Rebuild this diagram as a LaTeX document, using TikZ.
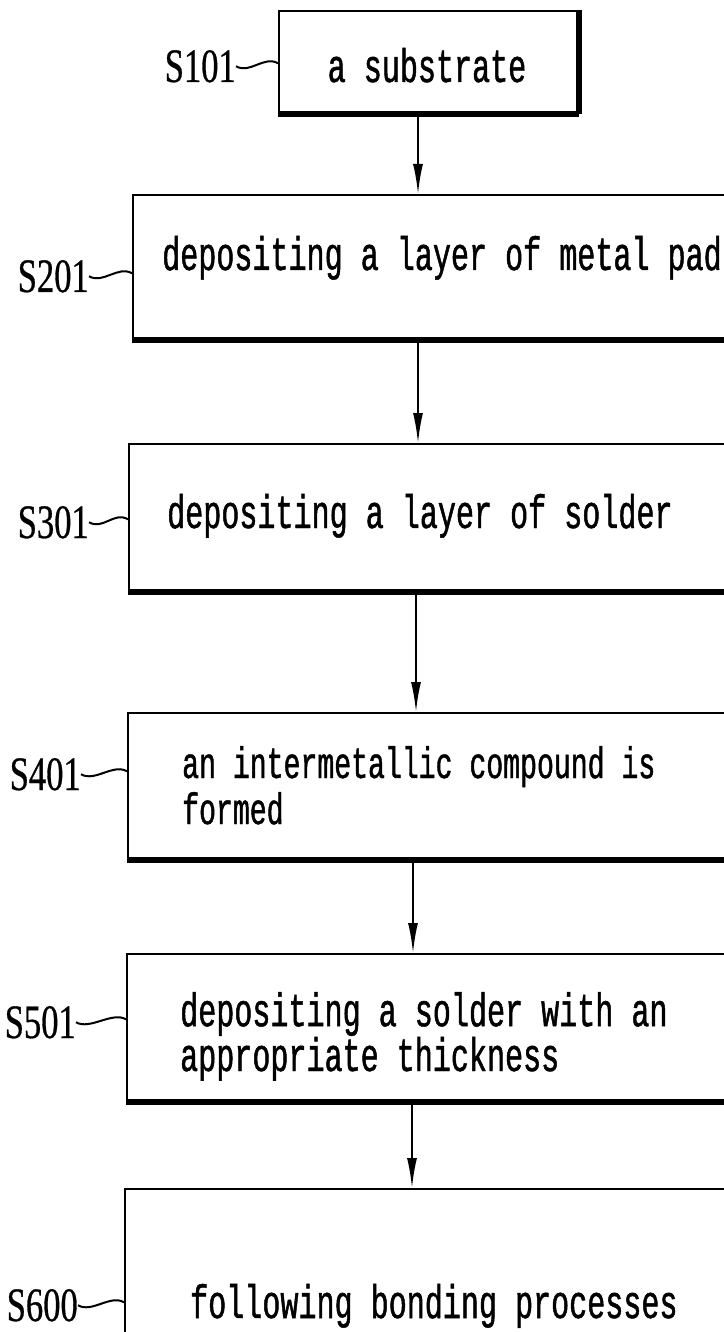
\documentclass[tikz,border=0pt]{standalone}
\usepackage{fontspec}
\newfontfamily\stepfont[FakeStretch=0.64,FakeBold=1]{Liberation Mono}
\newfontfamily\tagfont[FakeStretch=0.72,FakeBold=0.6]{Liberation Serif}
\usetikzlibrary{arrows.meta}

\begin{document}
\begin{tikzpicture}[x=1bp,y=-1bp,
  stepbox/.style={draw, line width=2.2bp, rectangle, inner sep=0pt, anchor=north west},
  steptext/.style={font={\stepfont\fontsize{47bp}{44bp}\selectfont}, inner sep=0pt, align=left, anchor=base west},
  tagtext/.style={font={\tagfont\fontsize{48bp}{48bp}\selectfont}, inner sep=0pt, anchor=base east},
  shadowedge/.style={line width=6bp},
  flow/.style={line width=2bp, -{Latex[length=30bp,width=10bp]}},
  wiggle/.style={line width=2bp}]
  \useasboundingbox (0,0) rectangle (723,1332);

  %%%%% steps %%%%%
  \node[stepbox, minimum width=299bp, minimum height=102bp] (s101) at (278,10) {};
  \node[stepbox, minimum width=640bp, minimum height=144bp] (s201) at (132,194) {};
  \node[stepbox, minimum width=640bp, minimum height=147bp] (s301) at (128,443) {};
  \node[stepbox, minimum width=640bp, minimum height=146bp] (s401) at (127,712) {};
  \node[stepbox, minimum width=640bp, minimum height=147bp] (s501) at (126,953) {};
  \node[stepbox, minimum width=640bp, minimum height=240bp] (s600) at (124,1188) {};

  \foreach \n in {101,201,301,401,501,600}
    \draw[shadowedge] (s\n.south west) -- (s\n.south east);
  \draw[shadowedge] (s101.south east) -- (s101.north east);

  %%%%% texts (base = last line) %%%%%
  \node[steptext, anchor=base] (t101) at (427,82) {a substrate};
  \node[steptext] (t201) at (162,270) {depositing a layer of metal pad};
  \node[steptext] (t301) at (167,528) {depositing a layer of solder};
  \node[steptext, font={\stepfont\fontsize{44bp}{46bp}\selectfont}] (t401) at (182,824) {an intermetallic compound is\\formed};
  \node[steptext, font={\stepfont\fontsize{47bp}{43bp}\selectfont}] (t501) at (180,1071) {depositing a solder with an\\appropriate thickness};
  \node[steptext] (t600) at (190,1318) {following bonding processes};

  %%%%% labels %%%%%
  \node[tagtext] (l101) at (236,82) {S101};
  \node[tagtext] (l201) at (89,292) {S201};
  \node[tagtext] (l301) at (89,538) {S301};
  \node[tagtext] (l401) at (81,790) {S401};
  \node[tagtext] (l501) at (76,1038) {S501};
  \node[tagtext] (l600) at (78,1321) {S600};

  \foreach \n in {101,201,301,401,501,600}
    \draw[wiggle] (l\n.east) .. controls +(14,8) and +(-14,-8) .. ([yshift=3bp]l\n.east -| s\n.west);

  %%%%% arrows %%%%%
  \foreach \a/\b/\x in {s101/s201/418, s201/s301/418, s301/s401/416, s401/s501/413, s501/s600/412} {
    \coordinate (ax) at (\x,0);
    \draw[flow] (\a.south -| ax) -- (\b.north -| ax);
  }
\end{tikzpicture}
\end{document}
